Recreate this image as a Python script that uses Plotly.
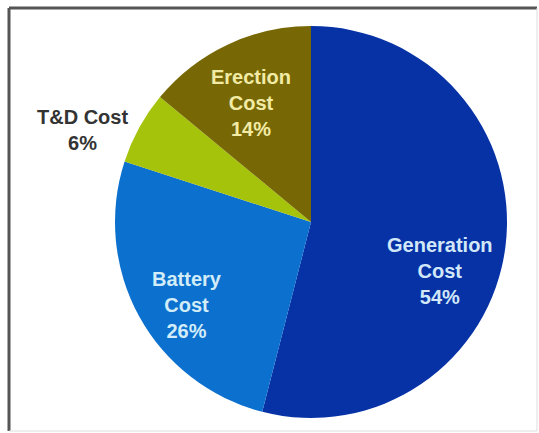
import plotly.graph_objects as go

# Data
categories = ["Generation<br>Cost", "Battery<br>Cost", "T&D Cost", "Erection<br>Cost"]
values = [54, 26, 6, 14]
colors = ["#0632A6", "#0B70CE", "#A6C30C", "#776805"]
text_colors = ["#D2E8F8", "#D2ECF8", "#333333", "#F2EBA6"]
# label centres (pixel positions)
label_px = [(440, 271), (187, 305), (82, 130), (251, 103)]

W, H = 539, 433
ml, mr, mt, mb = 115, 32, 26, 15
FONT = "Liberation Sans, Arial, sans-serif"

fig = go.Figure()
fig.add_trace(go.Pie(
    labels=categories,
    values=values,
    sort=False,
    direction="clockwise",
    rotation=0,
    marker=dict(colors=colors, line=dict(width=0)),
    textinfo="none",
    showlegend=False,
    hoverinfo="label+value",
))

def px(x, y):
    pw = W - ml - mr
    ph = H - mt - mb
    return (x - ml) / pw, 1 - (y - mt) / ph

for lab, val, col, (lx, ly) in zip(categories, values, text_colors, label_px):
    ax, ay = px(lx, ly)
    fig.add_annotation(
        x=ax, y=ay, xref="paper", yref="paper",
        xanchor="center", yanchor="middle",
        text="<b>" + lab + "<br>" + str(val) + "%</b>",
        showarrow=False,
        font=dict(family=FONT, size=20, color=col),
        align="center",
    )

# Picture frame
x0, y0 = px(9, 8)
x1, y1 = px(537, 431)
fig.add_shape(type="line", xref="paper", yref="paper", x0=x0, y0=y0, x1=x1, y1=y0,
              line=dict(color="#555555", width=3))
fig.add_shape(type="line", xref="paper", yref="paper", x0=x0, y0=y0, x1=x0, y1=y1,
              line=dict(color="#555555", width=3))
fig.add_shape(type="line", xref="paper", yref="paper", x0=x1, y0=y0, x1=x1, y1=y1,
              line=dict(color="#DDDDDD", width=1))
fig.add_shape(type="line", xref="paper", yref="paper", x0=x0, y0=y1, x1=x1, y1=y1,
              line=dict(color="#DDDDDD", width=1))

fig.update_layout(
    width=W, height=H,
    margin=dict(l=ml, r=mr, t=mt, b=mb),
    paper_bgcolor="white",
    plot_bgcolor="white",
    font=dict(family=FONT),
)

fig.write_html("out.html")
